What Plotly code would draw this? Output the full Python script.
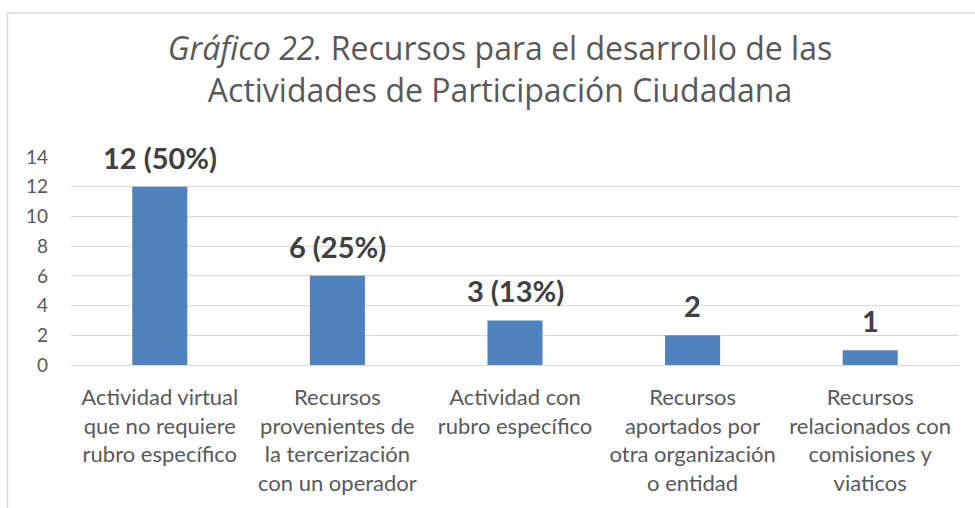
import plotly.graph_objects as go

categories = [
    "Actividad virtual<br>que no requiere<br>rubro específico",
    "Recursos<br>provenientes de<br>la tercerización<br>con un operador",
    "Actividad con<br>rubro específico",
    "Recursos<br>aportados por<br>otra organización<br>o entidad",
    "Recursos<br>relacionados con<br>comisiones y<br>viaticos",
]
values = [12, 6, 3, 2, 1]
labels = ["12 (50%)", "6 (25%)", "3 (13%)", "2", "1"]
y_ticks = [0, 2, 4, 6, 8, 10, 12, 14]

FONT = "Lato"
TITLE_FONT = "Open Sans"
W, H = 975, 508
ML, MR, MT, MB = 71, 16, 157, 143
pw, ph = W - ML - MR, H - MT - MB

fig = go.Figure()
fig.add_trace(go.Bar(
    x=categories, y=values,
    marker=dict(color="#4F81BD", line=dict(width=0)),
    width=0.31,
))

for c, v, t in zip(categories, values, labels):
    fig.add_annotation(
        x=c, y=v, text="<b>%s</b>" % t, showarrow=False,
        yanchor="bottom", yshift=10,
        font=dict(family=FONT, size=29, color="#404040"),
    )

def px_x(p):
    return (p - ML) / pw
def px_y(p):
    return 1 - (p - MT) / ph

# chart frame
fig.add_shape(type="rect", xref="paper", yref="paper",
              x0=px_x(7.5), x1=px_x(990), y0=px_y(530), y1=px_y(13),
              line=dict(color="#D9D9D9", width=1.5), layer="below")

fig.update_layout(
    width=W, height=H,
    margin=dict(l=ML, r=MR, t=MT, b=MB),
    paper_bgcolor="white", plot_bgcolor="white",
    showlegend=False,
    title=dict(
        text="<i>Gráfico 22.</i> Recursos para el desarrollo de las<br>Actividades de Participación Ciudadana",
        x=500 / W, xref="container", xanchor="center",
        y=1 - 60 / H, yref="container", yanchor="middle",
        font=dict(family=TITLE_FONT, size=32, color="#595959"),
    ),
    font=dict(family=FONT, color="#595959"),
)

fig.update_xaxes(
    showgrid=False, showline=False, ticks="",
    tickfont=dict(family=FONT, size=22, color="#595959"),
    ticklabelstandoff=17,
)
fig.update_yaxes(
    range=[0, 14], tickvals=y_ticks,
    showgrid=True, gridcolor="#D9D9D9", gridwidth=1,
    zeroline=True, zerolinecolor="#D9D9D9", zerolinewidth=1,
    showline=False, ticks="",
    tickfont=dict(family=FONT, size=19, color="#595959"),
    ticklabelstandoff=22,
)

fig.write_html("out.html", config={"displayModeBar": False},
               post_script="document.body.style.margin='0';")
